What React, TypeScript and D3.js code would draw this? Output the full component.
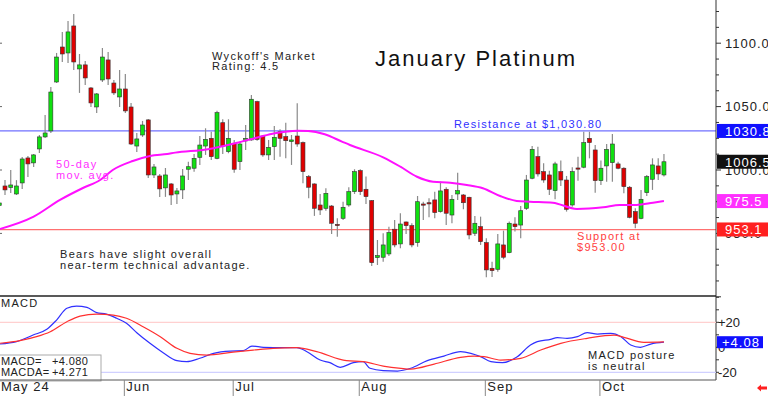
import React from "react";
import * as d3 from "d3";

// daily OHLC, January platinum, from May 1 (index 0)
const openP = [972, 987.4, 986.2, 981.1, 989.8, 1009.5, 1005.6, 1016.6, 1026.1, 1030.8, 1069.4, 1097.0, 1092.3, 1113.6, 1079.7, 1082.9, 1064.7, 1049.7, 1071.0, 1086.8, 1068.6, 1057.6, 1063.9, 1049.7, 1018.9, 1027.6, 1039.5, 996.1, 995.3, 985.9, 989.0, 981.1, 984.3, 1000.6, 1001.4, 1010.0, 1018.9, 1025.0, 1009.2, 1037.3, 1014.5, 1021.1, 1006.6, 1022.9, 1023.7, 1053.9, 1026.8, 1011.9, 1018.4, 1030.2, 1026.3, 1022.4, 1026.8, 1021.6, 994.8, 989.0, 972.4, 969.8, 971.6, 957.1, 961.9, 972.4, 982.9, 999.5, 984.8, 975.8, 930.9, 931.2, 933.8, 953.3, 941.7, 959.0, 956.1, 942.7, 973.2, 974.2, 976.4, 967.2, 984.8, 964.5, 981.1, 980.3, 978.5, 950.1, 955.3, 942.7, 922.5, 921.7, 940.9, 934.8, 957.4, 956.6, 969.8, 993.5, 1010.5, 998.7, 996.1, 983.7, 998.7, 992.1, 972.4, 1001.6, 1002.2, 1025.0, 1015.8, 991.6, 1003.2, 1005.8, 1004.8, 1001.4, 986.4, 967.2, 961.9, 982.1, 992.7, 1003.2, 996.1];
const highP = [977, 992.1, 1000, 992, 1010.3, 1011.1, 1012.7, 1027.6, 1043.4, 1065.5, 1092.3, 1108.9, 1117.5, 1123.1, 1091.5, 1086.0, 1065.5, 1060.8, 1096.2, 1093.1, 1071.0, 1078.9, 1075.7, 1052.9, 1029.2, 1038.7, 1040.2, 1004.8, 996.9, 1001.6, 989.8, 985.9, 1000.8, 1006.6, 1012.7, 1026.8, 1032.9, 1030.2, 1046.8, 1040.0, 1040.0, 1023.7, 1022.4, 1035.5, 1059.2, 1054.7, 1027.6, 1023.7, 1034.7, 1032.1, 1037.3, 1027.6, 1052.6, 1022.4, 996.1, 989.5, 981.1, 985.6, 972.4, 961.9, 975.0, 986.4, 1000.6, 1000.6, 994.8, 976.4, 944.8, 950.1, 955.3, 960.6, 965.9, 959.3, 958.0, 979.5, 975.0, 977.7, 982.9, 990.8, 986.4, 980.3, 997.9, 981.1, 979.0, 963.8, 963.2, 946.2, 927.7, 949.5, 952.2, 959.3, 962.7, 971.6, 996.1, 1018.9, 1018.4, 1005.3, 999.5, 1006.6, 1007.4, 995.3, 1002.2, 1010.5, 1030.2, 1030.2, 1019.7, 1007.4, 1020.5, 1028.4, 1006.6, 1002.2, 987.4, 969.8, 984.3, 996.1, 1009.2, 1009.2, 1012.7];
const lowP = [968, 980.3, 981.9, 980.3, 985.1, 994.5, 1002.4, 1013.4, 1025.3, 1029.2, 1068.6, 1085.2, 1084.4, 1078.9, 1060.8, 1067.1, 1049.7, 1045.0, 1069.4, 1067.1, 1059.2, 1049.7, 1045.0, 1019.7, 1014.2, 1026.1, 993.7, 993.7, 978.8, 978.8, 972.4, 973.2, 977.2, 992.1, 998.7, 1004.0, 1011.9, 1007.9, 1008.5, 1012.7, 1013.2, 997.9, 1000.0, 1015.8, 1023.1, 1023.1, 1010.5, 1007.9, 1007.9, 1010.5, 1009.2, 1004.0, 1018.4, 989.5, 977.7, 963.8, 964.5, 967.9, 949.5, 947.4, 960.6, 971.1, 981.1, 980.3, 973.2, 924.3, 925.1, 927.7, 932.2, 939.1, 938.3, 949.5, 939.1, 939.5, 960.6, 962.7, 961.9, 966.4, 956.7, 958.0, 976.4, 969.0, 945.4, 948.0, 940.9, 915.4, 915.6, 919.8, 929.6, 934.3, 951.4, 946.2, 968.5, 992.7, 994.8, 990.0, 980.3, 976.9, 987.4, 967.2, 971.1, 991.6, 1001.4, 1009.2, 982.1, 988.2, 990.8, 990.8, 1000.6, 981.7, 961.9, 954.0, 961.2, 979.5, 984.3, 992.1, 994.8];
const closeP = [974, 984.3, 988.2, 987.4, 1008.7, 1004.8, 1011.9, 1026.1, 1029.2, 1061.5, 1089.1, 1091.5, 1108.9, 1085.2, 1082.9, 1072.6, 1052.9, 1060.0, 1089.1, 1071.8, 1060.8, 1063.9, 1046.6, 1020.5, 1024.5, 1035.5, 996.1, 1002.4, 985.1, 996.1, 980.3, 983.5, 995.3, 1002.6, 1009.2, 1019.7, 1024.2, 1010.5, 1045.2, 1018.9, 1025.0, 1000.6, 1020.5, 1025.0, 1055.8, 1024.2, 1011.9, 1017.9, 1025.8, 1025.0, 1023.1, 1023.7, 1020.5, 998.7, 986.4, 969.8, 968.5, 981.6, 958.0, 956.3, 970.6, 982.9, 998.7, 982.9, 979.0, 926.9, 932.5, 940.9, 950.6, 940.9, 957.4, 956.1, 940.9, 975.0, 972.8, 973.8, 966.4, 983.5, 965.9, 976.9, 983.7, 974.2, 948.8, 958.0, 943.5, 921.2, 920.6, 941.7, 931.2, 958.0, 955.3, 967.9, 992.1, 1016.3, 996.9, 992.1, 984.8, 1004.8, 992.1, 969.0, 998.7, 1001.0, 1021.6, 1021.6, 991.6, 1001.4, 1016.3, 1020.5, 1001.4, 986.9, 962.7, 958.0, 976.9, 994.8, 1004.0, 996.9, 1006.5];

// 50-day moving average (candle index, price)
const maIdx = [0, 6, 10.6, 14.6, 17.6, 19.8, 23.3, 26.3, 29.3, 30.7, 36.4, 42.3, 45.2, 48.1, 52.1, 53.9, 56.8, 59.8, 61.2, 67, 70, 72.9, 75.7, 78.7, 81.6, 84.4, 87.4, 90.3, 92.6, 96.6, 100.8, 105.4, 108.3, 111.2, 114.1, 116];
const maVal = [953.3, 963.2, 976.4, 985.8, 992.1, 1000, 1007.1, 1011.1, 1012.7, 1013.7, 1016.4, 1022.4, 1025.8, 1029, 1031, 1030.8, 1028.2, 1022.4, 1019.7, 1010, 1002.6, 994.7, 990.8, 990, 988.2, 985.6, 979.5, 975.6, 975, 974.2, 969.3, 970.6, 972.4, 972.4, 974.2, 975.5];

// MACD (blue) and its average (red)
const macdIdx = [0, 3, 5.9, 8.3, 10, 11.8, 13.5, 15.3, 17, 18.7, 20.5, 22.2, 24, 26.3, 28.6, 31, 32.7, 35, 37.4, 40.3, 42.6, 44.1, 46.1, 49.6, 51.9, 53.7, 56, 57.7, 59.5, 61.8, 63.5, 64.7, 67, 69.5, 71.8, 74.7, 77.6, 80.5, 82.3, 84, 85.8, 87.8, 90.4, 92.7, 93.9, 96.2, 97.4, 99.1, 100.9, 102.6, 104.4, 106.7, 108.5, 110.2, 111.9, 113.7, 116];
const macdVal = [2.6, 4.5, 9.8, 14.4, 21.8, 31.2, 33, 32, 27.7, 26.6, 23.2, 19.2, 11.7, 3.2, -4.3, -10.7, -11.5, -8.8, -4.8, -3, -2.7, 1, 0, -0.3, -0.3, -3.5, -10.2, -12.3, -16, -12.3, -11.5, -16.8, -18.7, -19, -16.8, -10.7, -7, -3.5, -4.8, -7.5, -11.5, -12.3, -7.5, 1.8, 4.5, 6.4, 7.7, 7.2, 8.5, 11.7, 10.6, 11.2, 8.5, 1.8, 0, 2.6, 4.08];
const sigIdx = [0, 3.6, 6.5, 8.9, 11.8, 14.1, 17, 19.9, 22.2, 25.1, 28.1, 31, 33.3, 36.2, 40.8, 44.3, 47.8, 51.9, 55.4, 60.6, 63.5, 67, 70.1, 71.8, 75.9, 80.5, 82.9, 84.6, 87.5, 91, 94.5, 98, 102.6, 107.3, 109, 112.5, 116];
const sigVal = [3.2, 5.3, 8.5, 12.5, 20.5, 25, 26.6, 25.8, 23.2, 16.5, 8.5, -0.8, -4.8, -6.2, -3.8, -2.2, -0.8, -0.3, -3.5, -10.7, -11.5, -15, -16.8, -17.4, -13.4, -8, -7, -7.5, -10.2, -8.8, -2.2, 3.2, 7.2, 9.8, 8, 4, 4.271];

const months = ["Jun", "Jul", "Aug", "Sep", "Oct"];
const monthStart = [22, 41, 63, 85, 105];
const priceTicks = [1100, 1050, 1000, 950];
const resistance = 1030.8;
const support = 953.0;

const W = 768;
const H = 396;
const plotR = 716;
const mainTop = 0;
const mainBot = 296;
const macdTop = 296;
const macdBot = 380;

const FONT = "'Liberation Sans', Arial, sans-serif";

export default function App() {
  const n = closeP.length;
  const x = d3.scaleLinear().domain([0, n - 1]).range([-0.73, -0.73 + 5.73 * (n - 1)]);
  const y = d3.scaleLinear().domain([1000, 1100]).range([170, 43.2]);
  const ym = d3.scaleLinear().domain([20, -20]).range([322.3, 372.3]);

  const pLine = d3
    .line<number[]>()
    .x((d) => x(d[0]))
    .y((d) => y(d[1]))
    .curve(d3.curveMonotoneX);
  const mLine = d3
    .line<number[]>()
    .x((d) => x(d[0]))
    .y((d) => ym(d[1]))
    .curve(d3.curveMonotoneX);

  const maPts = maIdx.map((v, i) => [v, maVal[i]]);
  const macdPts = macdIdx.map((v, i) => [v, macdVal[i]]);
  const sigPts = sigIdx.map((v, i) => [v, sigVal[i]]);

  const minor = d3.range(900, 1135, 12.5);
  const macdMinor = d3.range(-20, 41, 10);
  const lastClose = closeP[n - 1];
  const lastMa = maVal[maVal.length - 1];

  const txt = { fontFamily: FONT, fontSize: 11, letterSpacing: 1.3, fill: "#222" } as const;
  const leg = { fontFamily: FONT, fontSize: 11, letterSpacing: 0.4, fill: "#222" } as const;

  const boxes = [
    { v: resistance, label: "1030.8", fill: "#1010ff" },
    { v: lastClose, label: lastClose.toFixed(1), fill: "#111" },
    { v: lastMa, label: lastMa.toFixed(1), fill: "#ff30ff" },
    { v: support + 0.1, label: "953.1", fill: "#ff2020" },
  ];

  return (
    <svg
      width={W}
      height={H}
      style={{ position: "absolute", left: 0, top: 0, background: "#fff" }}
    >
      <defs>
        <clipPath id="main">
          <rect x={0} y={mainTop} width={plotR} height={mainBot - mainTop} />
        </clipPath>
        <clipPath id="macd">
          <rect x={0} y={macdTop} width={plotR} height={macdBot - macdTop} />
        </clipPath>
      </defs>

      {/* level lines */}
      <line x1={0} x2={plotR} y1={y(resistance)} y2={y(resistance)} stroke="#7070ff" strokeWidth={1.2} />
      <line x1={0} x2={plotR} y1={y(support)} y2={y(support)} stroke="#ff7070" strokeWidth={1.2} />

      {/* candles */}
      <g clipPath="url(#main)">
        {closeP.map((c, i) => {
          const o = openP[i];
          const up = c >= o;
          const top = y(Math.max(o, c));
          const h = Math.max(1.2, Math.abs(y(o) - y(c)));
          return (
            <g key={i}>
              <line x1={x(i)} x2={x(i)} y1={y(highP[i])} y2={y(lowP[i])} stroke="#8a8a8a" strokeWidth={1.2} />
              <rect
                x={x(i) - 2}
                y={top}
                width={4}
                height={h}
                fill={up ? "#10e010" : "#e00000"}
                stroke="#333"
                strokeWidth={0.6}
              />
            </g>
          );
        })}
        <path d={pLine(maPts) || ""} fill="none" stroke="#ff10ff" strokeWidth={2} />
      </g>

      {/* annotations */}
      <text x={375} y={66} fontFamily={FONT} fontSize={22} letterSpacing={2} fill="#111">
        January Platinum
      </text>
      <text x={212} y={60} {...txt}>Wyckoff's Market</text>
      <text x={212} y={70} {...txt}>Rating: 4.5</text>
      <text x={454} y={128} {...txt} fill="#3030ff">Resistance at $1,030.80</text>
      <text x={56} y={168} {...txt} fill="#ff30ff">50-day</text>
      <text x={56} y={179} {...txt} fill="#ff30ff">mov. avg.</text>
      <text x={60} y={258} {...txt}>Bears have slight overall</text>
      <text x={60} y={269} {...txt}>near-term technical advantage.</text>
      <text x={577} y={240} {...txt} fill="#ff4040">Support at</text>
      <text x={577} y={251} {...txt} fill="#ff4040">$953.00</text>

      {/* right price axis */}
      <line x1={plotR} x2={plotR} y1={0} y2={macdBot} stroke="#333" strokeWidth={1} />
      {minor.map((v) => (
        <line key={v} x1={plotR} x2={plotR + (v % 50 === 0 ? 5 : 3)} y1={y(v)} y2={y(v)} stroke="#333" />
      ))}
      {priceTicks.map((v) => (
        <g key={v}>
          <line x1={0} x2={2} y1={y(v)} y2={y(v)} stroke="#666" />
          <text x={725} y={y(v) + 4.5} fontFamily={FONT} fontSize={13} letterSpacing={1} fill="#222">
            {v.toFixed(1)}
          </text>
        </g>
      ))}
      {boxes.map((b) => (
        <g key={b.label}>
          <rect x={717} y={y(b.v) - 7} width={51} height={14} fill={b.fill} />
          <text x={725} y={y(b.v) + 5} fontFamily={FONT} fontSize={13} letterSpacing={1} fill="#fff">
            {b.label}
          </text>
        </g>
      ))}

      {/* MACD panel */}
      <line x1={0} x2={plotR} y1={macdTop} y2={macdTop} stroke="#222" strokeWidth={1.6} />
      <line x1={0} x2={plotR} y1={ym(20)} y2={ym(20)} stroke="#ffd0d0" strokeWidth={1.2} />
      <line x1={0} x2={plotR} y1={ym(-20)} y2={ym(-20)} stroke="#d0d0ff" strokeWidth={1.2} />
      <g clipPath="url(#macd)">
        <path d={mLine(macdPts) || ""} fill="none" stroke="#3030ff" strokeWidth={1.2} />
        <path d={mLine(sigPts) || ""} fill="none" stroke="#ff3030" strokeWidth={1.2} />
      </g>
      {macdMinor.map((v) => (
        <line key={v} x1={plotR} x2={plotR + 3} y1={ym(v)} y2={ym(v)} stroke="#333" />
      ))}
      <text x={718} y={ym(20) + 5} fontFamily={FONT} fontSize={13} fill="#222">+20</text>
      <text x={718} y={ym(0) + 5} fontFamily={FONT} fontSize={13} fill="#222">0</text>
      <text x={718} y={ym(-20) + 5} fontFamily={FONT} fontSize={13} fill="#222">-20</text>
      <rect x={717} y={ym(4.08) - 6} width={46} height={12} fill="#1010ff" />
      <text x={722} y={ym(4.08) + 4.5} fontFamily={FONT} fontSize={13} letterSpacing={1} fill="#fff">
        +4.08
      </text>
      <text x={1} y={307} {...txt}>MACD</text>
      <text x={588} y={359} {...txt}>MACD posture</text>
      <text x={588} y={370} {...txt}>is neutral</text>
      <rect x={-1} y={355} width={102} height={26} fill="#fff" stroke="#aaa" />
      <text x={1} y={365} {...leg}>MACD=</text>
      <text x={52} y={365} {...leg}>+4.080</text>
      <text x={1} y={376} {...leg}>MACDA=</text>
      <text x={52} y={376} {...leg}>+4.271</text>
      <line x1={0} x2={plotR} y1={macdBot} y2={macdBot} stroke="#555" strokeWidth={1} />

      {/* date axis */}
      <text x={1} y={391} fontFamily={FONT} fontSize={13} letterSpacing={1} fill="#222">May 24</text>
      {months.map((m, k) => {
        const px = x(monthStart[k]) - 1;
        return (
          <g key={m}>
            <line x1={px} x2={px} y1={macdBot} y2={H} stroke="#888" />
            <text x={px + 2} y={391} fontFamily={FONT} fontSize={13} letterSpacing={1} fill="#222">
              {m}
            </text>
          </g>
        );
      })}
      <path d="M757,388 L761,384.5 L761,386.5 L767,386.5 L767,389.5 L761,389.5 L761,391.5 Z" fill="#ff2020" />
    </svg>
  );
}
